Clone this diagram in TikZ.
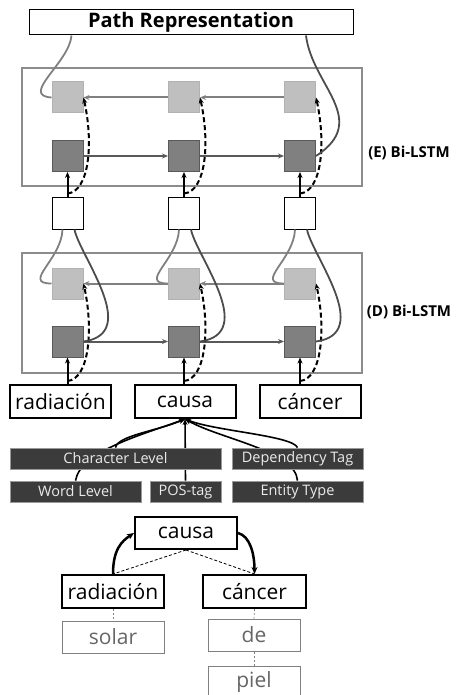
\documentclass[tikz,border=0pt]{standalone}
\usepackage{fontspec}
\setmainfont{Open Sans}
\usetikzlibrary{arrows.meta,backgrounds}

\tikzset{
	lstmframe/.style={draw=black!45, line width=2.5pt, minimum width=340pt, minimum height=118pt, inner sep=0pt},
	bwcell/.style={fill=black!25, draw=black!30, line width=1pt, minimum size=31pt, inner sep=0pt},
	fwcell/.style={fill=black!50, draw=black!65, line width=1pt, minimum size=31pt, inner sep=0pt},
	mergebox/.style={draw, fill=white, line width=1pt, minimum width=31pt, minimum height=32pt, inner sep=0pt},
	wordbox/.style={draw, fill=white, line width=2pt, minimum width=101pt, minimum height=33pt, inner sep=0pt, font=\fontsize{21}{21}\selectfont},
	featbox/.style={fill=black!77, draw=black!40, line width=.8pt, text=black!8, minimum height=21pt, inner sep=0pt, font=\fontsize{14.5}{14.5}\selectfont},
	leafbox/.style={draw=black!50, line width=1pt, text=black!60, minimum width=92pt, minimum height=32pt, inner sep=0pt, font=\fontsize{21}{21}\selectfont},
	tip/.style={-{Stealth[length=6pt,width=5pt]}},
	fwline/.style={tip, draw=black!65, line width=2pt},
	bwline/.style={tip, draw=black!50, line width=2pt},
	fwout/.style={draw=black!70, line width=1.8pt},
	bwout/.style={draw=black!50, line width=1.8pt},
	inarrow/.style={tip, line width=2pt},
	skip/.style={tip, line width=2pt, dash pattern=on 5pt off 3pt},
	featline/.style={-{Stealth[length=6pt,width=5pt]}, line width=1.6pt},
	deparc/.style={-{Stealth[length=7pt,width=6pt]}, line width=2.5pt},
	treeline/.style={line width=.8pt, dash pattern=on 3pt off 2pt},
	leafline/.style={draw=black!50, line width=.8pt, dash pattern=on 2pt off 2pt},
	bilabel/.style={font=\bfseries\fontsize{15}{15}\selectfont}
}

\begin{document}
\begin{tikzpicture}[x=1pt,y=-1pt]
	\useasboundingbox (0,0) rectangle (460,695);
	% output
	\node[draw, line width=1pt, minimum width=324pt, minimum height=25pt, inner sep=0pt,
		font=\bfseries\fontsize{20}{20}\selectfont] (path) at (191,22.5) {Path Representation};
	% frames
	\node[lstmframe] (frameE) at (192,127) {};
	\node[lstmframe, minimum height=120pt] (frameD) at (192,313) {};
	\node[bilabel] (labelE) at (409,153) {(E) Bi-LSTM};
	\node[bilabel] (labelD) at (409,312) {(D) Bi-LSTM};
	% cells
	\foreach \i/\x in {1/67.5,2/184,3/300}{
		\node[bwcell] (eb\i) at (\x,97.5) {};
		\node[fwcell] (ef\i) at (\x,156) {};
		\node[mergebox] (m\i) at (\x,213) {};
		\node[bwcell] (db\i) at (\x,283.5) {};
		\node[fwcell] (df\i) at (\x,341.5) {};
	}
	% words
	\node[wordbox] (w1) at (60.5,401.5) {radiación};
	\node[wordbox] (w2) at (185,401.5) {causa};
	\node[wordbox] (w3) at (310,401.5) {cáncer};
	% recurrent links
	\foreach \i/\j in {1/2,2/3}{
		\draw[fwline] (ef\i) -- (ef\j);
		\draw[fwline] (df\i) -- (df\j);
		\draw[bwline] (eb\j) -- (eb\i);
		\draw[bwline] (db\j) -- (db\i);
	}
	% inputs
	\foreach \i in {1,2,3}{
		\draw[inarrow] (m\i.north) -- (ef\i.south);
		\draw[skip] ([yshift=3pt]m\i.north) .. controls +(22pt,2pt) and +(10pt,-45pt) .. (eb\i.east);
		\draw[inarrow] (df\i.south |- w\i.north) -- (df\i.south);
		\draw[skip] ([yshift=3pt]df\i.south |- w\i.north) .. controls +(22pt,2pt) and +(10pt,-45pt) .. (db\i.east);
		% merge
		\draw[bwout] ([xshift=-5pt]m\i.south) .. controls +(-1pt,-30pt) and +(-30pt,0pt) .. (db\i.west);
		\draw[fwout] ([xshift=7pt]m\i.south) .. controls +(5pt,-26pt) and +(58pt,8pt) .. (df\i.east);
	}
	% final states
	\draw[bwout] (eb1.west) .. controls +(-32pt,2pt) and +(-2pt,-27pt) .. ([xshift=4pt]eb1.north |- path.south);
	\draw[fwout] ([xshift=6pt]ef3.north |- path.south) .. controls +(6pt,-50pt) and +(55pt,36pt) .. (ef3.east);
	% features
	\node[featbox, minimum width=211pt] (cl) at (115.5,458.5) {Character Level};
	\node[featbox, minimum width=131pt] (dt) at (297.5,458.5) {Dependency Tag};
	\node[featbox, minimum width=131pt] (wl) at (75.5,491.5) {Word Level};
	\node[featbox, minimum width=71pt] (pt) at (185.5,491.5) {POS-tag};
	\node[featbox, minimum width=131pt] (et) at (297.5,491.5) {Entity Type};
	\begin{scope}[on background layer]
		\draw[featline] (wl.north) .. controls +(5pt,30pt) and +(-40pt,-15pt) .. (w2.south);
		\draw[featline] (et.north) .. controls +(-2pt,30pt) and +(35pt,-20pt) .. (w2.south);
		\draw[featline] (pt.north) -- (w2.south);
	\end{scope}
	\draw[featline] (cl.north) .. controls +(2pt,12pt) and +(-28pt,-12pt) .. (w2.south);
	\draw[featline] (dt.north) .. controls +(-5pt,12pt) and +(30pt,-12pt) .. (w2.south);
	% dependency tree
	\node[wordbox, minimum width=102pt, minimum height=32pt] (c2) at (186,533) {causa};
	\node[wordbox, minimum width=102pt] (r2) at (113,591.5) {radiación};
	\node[wordbox, minimum width=103pt] (k2) at (254.5,591.5) {cáncer};
	\node[leafbox, minimum width=102pt] (solar) at (113,637) {solar};
	\node[leafbox] (de) at (254,635) {de};
	\node[leafbox] (piel) at (254,682) {piel};
	\draw[treeline] (c2.south) -- (r2.north);
	\draw[treeline] (c2.south) -- (k2.north);
	\draw[deparc] (r2.north) .. controls +(0pt,25pt) and +(-12pt,-8pt) .. (c2.west);
	\draw[deparc] (c2.east) .. controls +(12pt,-3pt) and +(0pt,20pt) .. (k2.north);
	\draw[leafline] (r2.south) -- (solar.north);
	\draw[leafline] (k2.south) -- (de.north);
	\draw[leafline] (de.south) -- (piel.north);
\end{tikzpicture}
\end{document}
